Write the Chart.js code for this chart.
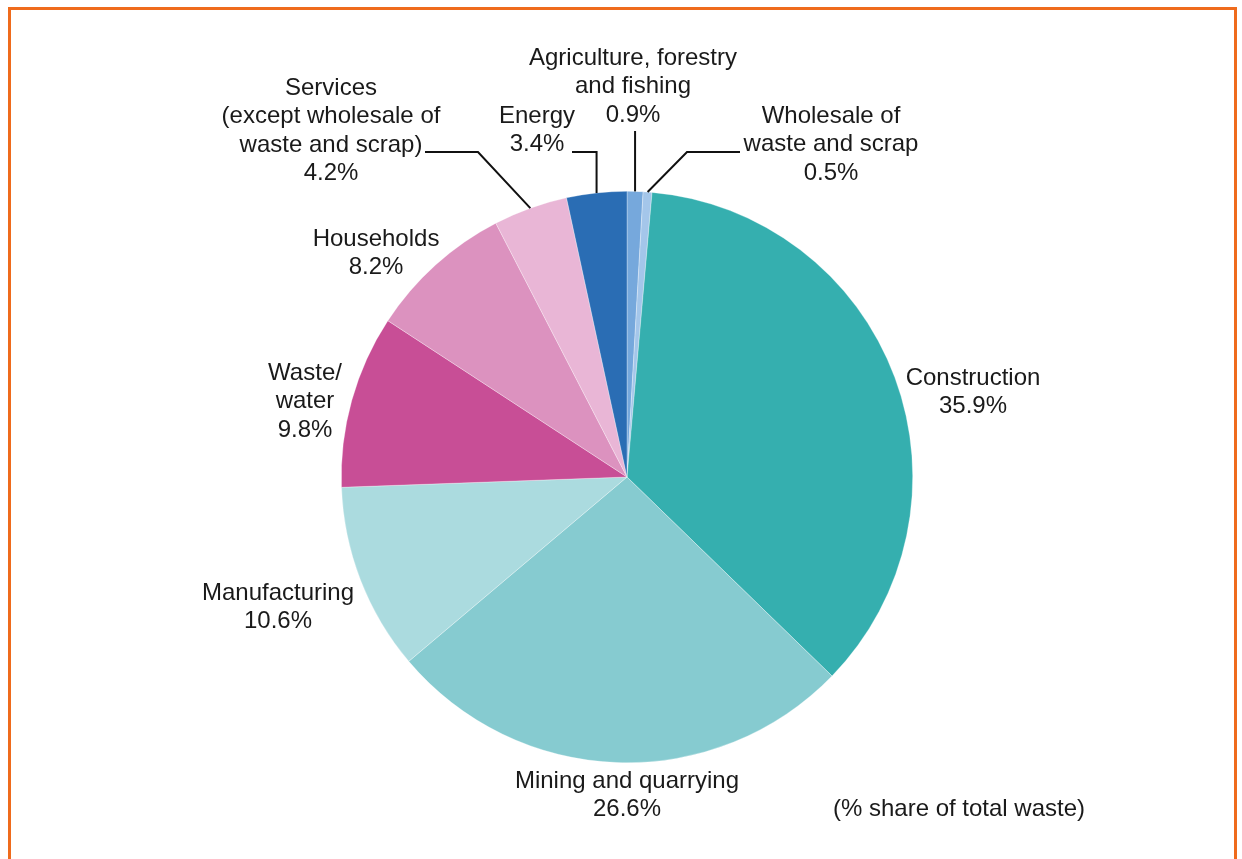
<!DOCTYPE html>
<html>
<head>
<meta charset="utf-8">
<script src="https://cdn.jsdelivr.net/npm/chart.js@4"></script>
<style>
    html, body { margin: 0; padding: 0; background: #fff; }
    canvas { display: block; }
</style>
</head>
<body>
<canvas id="wasteChart" width="1242" height="859"></canvas>
<script>
// data, clockwise from 12 o'clock
const sectors = [
    'Agriculture, forestry and fishing',
    'Wholesale of waste and scrap',
    'Construction',
    'Mining and quarrying',
    'Manufacturing',
    'Waste/water',
    'Households',
    'Services (except wholesale of waste and scrap)',
    'Energy'
];
const shares = [0.9, 0.5, 35.9, 26.6, 10.6, 9.8, 8.2, 4.2, 3.4];
const labelLines = [
    ['Agriculture, forestry', 'and fishing'],
    ['Wholesale of', 'waste and scrap'],
    ['Construction'],
    ['Mining and quarrying'],
    ['Manufacturing'],
    ['Waste/', 'water'],
    ['Households'],
    ['Services', '(except wholesale of', 'waste and scrap)'],
    ['Energy']
];
const sliceColors = [
    '#76a8dc', '#a4c6ea', '#35afaf', '#86cbd0', '#abdbdf',
    '#c84e96', '#dc92bf', '#e9b6d6', '#2a6db4'
];

// label placement relative to pie centre (text centre of first line)
const labelPos = [
    { dx: 6, dy: -420 },
    { dx: 204, dy: -362 },
    { dx: 346, dy: -100 },
    { dx: 0, dy: 303 },
    { dx: -349, dy: 115 },
    { dx: -322, dy: -105 },
    { dx: -251, dy: -239 },
    { dx: -296, dy: -390 },
    { dx: -90, dy: -362 }
];
// leader line elbows relative to pie centre; null x = straight up from the slice
const leaders = {
    0: [[null, -346]],
    1: [[60, -325], [113, -325]],
    7: [[-149, -325], [-202, -325]],
    8: [[null, -325], [-55, -325]]
};

const FONT = '24px "Liberation Sans", Arial, Helvetica, sans-serif';
const LINE_H = 28.5;

const labelPlugin = {
    id: 'pieLabels',
    beforeDraw(chart) {
        const ctx = chart.ctx;
        ctx.save();
        ctx.strokeStyle = '#ef6b1c';
        ctx.lineWidth = 3;
        ctx.strokeRect(9.5, 8.5, 1226, 900);
        ctx.restore();
    },
    afterDraw(chart) {
        const ctx = chart.ctx;
        const arcs = chart.getDatasetMeta(0).data;
        const cx = arcs[0].x, cy = arcs[0].y;
        ctx.save();
        ctx.font = FONT;
        ctx.fillStyle = '#1a1a1a';
        ctx.textAlign = 'center';
        ctx.textBaseline = 'middle';
        arcs.forEach((arc, i) => {
            const lines = labelLines[i].concat([shares[i].toFixed(1) + '%']);
            const p = labelPos[i];
            lines.forEach((t, k) => {
                ctx.fillText(t, cx + p.dx, cy + p.dy + k * LINE_H + 1);
            });
            if (leaders[i]) {
                const mid = (arc.startAngle + arc.endAngle) / 2;
                const sx = cx + Math.cos(mid) * arc.outerRadius;
                const sy = cy + Math.sin(mid) * arc.outerRadius;
                ctx.beginPath();
                ctx.moveTo(sx, sy);
                leaders[i].forEach(pt => {
                    ctx.lineTo(pt[0] === null ? sx : cx + pt[0], cy + pt[1]);
                });
                ctx.strokeStyle = '#111';
                ctx.lineWidth = 2;
                ctx.stroke();
            }
        });
        ctx.fillText('(% share of total waste)', cx + 332, cy + 332);
        ctx.restore();
    }
};

new Chart(document.getElementById('wasteChart').getContext('2d'), {
    type: 'pie',
    data: {
        labels: sectors,
        datasets: [{
            data: shares,
            backgroundColor: sliceColors,
            borderColor: 'rgba(255,255,255,0.5)',
            borderWidth: 0.6
        }]
    },
    options: {
        responsive: false,
        animation: false,
        layout: { padding: { left: 341, right: 329, top: 191, bottom: 96 } },
        plugins: {
            legend: { display: false },
            tooltip: { enabled: false }
        }
    },
    plugins: [labelPlugin]
});
</script>
</body>
</html>
